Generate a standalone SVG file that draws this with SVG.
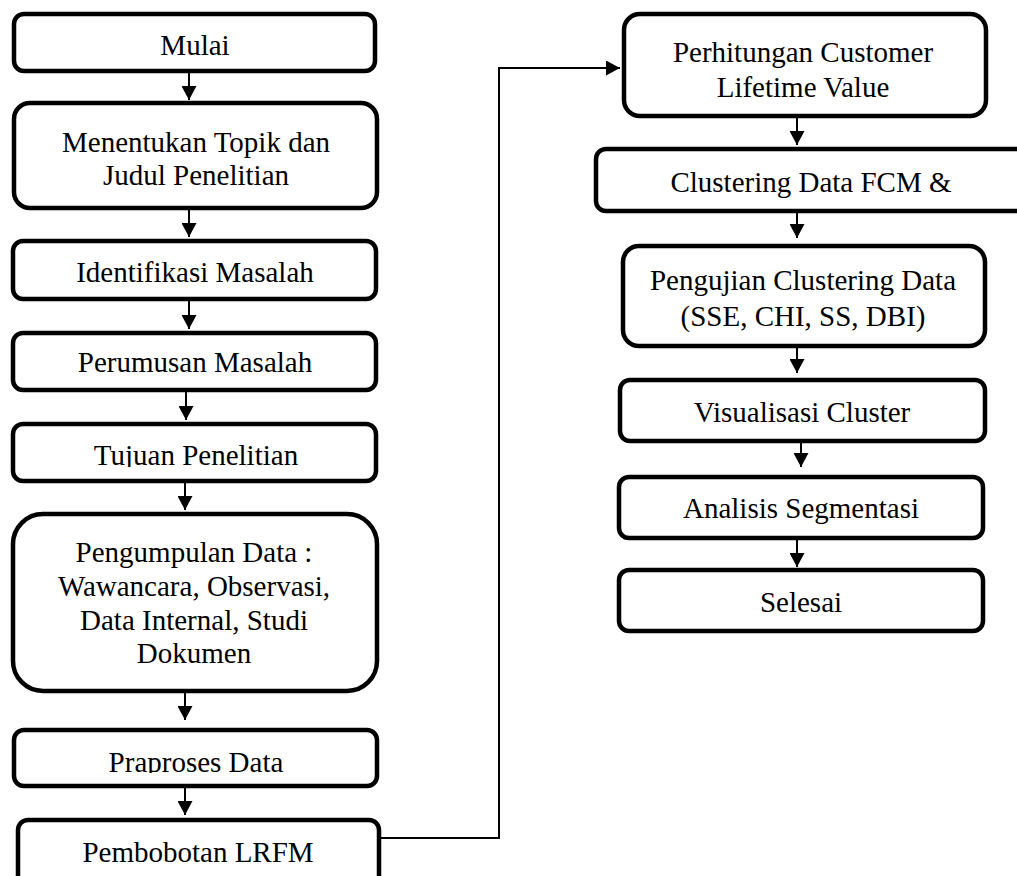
<svg xmlns="http://www.w3.org/2000/svg" width="1017" height="876" viewBox="0 0 1017 876">
<defs>
<style>
.box{fill:#fff;stroke:#000;stroke-width:4.5}
.t{font-family:"Liberation Serif","Times New Roman",serif;font-size:29px;fill:#000;text-anchor:middle}
.c{fill:none;stroke:#000;stroke-width:2}
</style>
<marker id="ah" viewBox="0 0 10 10" refX="10" refY="5" markerWidth="14" markerHeight="15" markerUnits="userSpaceOnUse" orient="auto" preserveAspectRatio="none">
<path d="M0,0 L10,5 L0,10 z" fill="#000"/>
</marker>
<clipPath id="clipTujuan"><rect x="0" y="420" width="400" height="47"/></clipPath>
<clipPath id="clipPrap"><rect x="0" y="726" width="400" height="47"/></clipPath>
</defs>
<rect width="1017" height="876" fill="#fff"/>
<g id="connectors">
<line class="c" x1="189" y1="73" x2="189" y2="100" marker-end="url(#ah)"/>
<line class="c" x1="189" y1="210" x2="189" y2="237" marker-end="url(#ah)"/>
<line class="c" x1="189" y1="301" x2="189" y2="329" marker-end="url(#ah)"/>
<line class="c" x1="186" y1="392" x2="186" y2="420" marker-end="url(#ah)"/>
<line class="c" x1="185" y1="483" x2="185" y2="510" marker-end="url(#ah)"/>
<line class="c" x1="185" y1="693" x2="185" y2="720" marker-end="url(#ah)"/>
<line class="c" x1="185" y1="788" x2="185" y2="815" marker-end="url(#ah)"/>
<polyline class="c" points="381,838 499,838 499,68 620,68" marker-end="url(#ah)"/>
<line class="c" x1="797" y1="118" x2="797" y2="145" marker-end="url(#ah)"/>
<line class="c" x1="797" y1="213" x2="797" y2="238" marker-end="url(#ah)"/>
<line class="c" x1="797" y1="348" x2="797" y2="373" marker-end="url(#ah)"/>
<line class="c" x1="801" y1="443" x2="801" y2="467" marker-end="url(#ah)"/>
<line class="c" x1="797" y1="540" x2="797" y2="567" marker-end="url(#ah)"/>
</g>
<g id="mulai"><rect class="box" x="14" y="14" width="361" height="57" rx="10"/><text class="t" x="195" y="55">Mulai</text></g>
<g id="menentukan"><rect class="box" x="14" y="103" width="363" height="105" rx="16"/><text class="t" x="196" y="152">Menentukan Topik dan</text><text class="t" x="196" y="185">Judul Penelitian</text></g>
<g id="identifikasi"><rect class="box" x="13" y="241" width="363" height="58" rx="10"/><text class="t" x="195" y="282">Identifikasi Masalah</text></g>
<g id="perumusan"><rect class="box" x="13" y="333" width="363" height="57" rx="10"/><text class="t" x="195" y="372">Perumusan Masalah</text></g>
<g id="tujuan"><rect class="box" x="13" y="424" width="363" height="57" rx="10"/><text class="t" x="196" y="465" clip-path="url(#clipTujuan)">Tujuan Penelitian</text></g>
<g id="pengumpulan"><rect class="box" x="13" y="514" width="364" height="177" rx="30"/><text class="t" x="194" y="562">Pengumpulan Data :</text><text class="t" x="194" y="596">Wawancara, Observasi,</text><text class="t" x="194" y="630">Data Internal, Studi</text><text class="t" x="194" y="663">Dokumen</text></g>
<g id="praproses"><rect class="box" x="14" y="730" width="363" height="56" rx="10"/><text class="t" x="196" y="772" clip-path="url(#clipPrap)">Praproses Data</text></g>
<g id="pembobotan"><rect class="box" x="18" y="820" width="361" height="70" rx="10"/><text class="t" x="198" y="862">Pembobotan LRFM</text></g>
<g id="perhitungan"><rect class="box" x="624" y="14" width="362" height="102" rx="16"/><text class="t" x="803" y="62">Perhitungan Customer</text><text class="t" x="803" y="97">Lifetime Value</text></g>
<g id="clustering"><rect class="box" x="596" y="149" width="500" height="62" rx="10"/><text class="t" x="811" y="192">Clustering Data FCM &amp;</text></g>
<g id="pengujian"><rect class="box" x="623" y="246" width="362" height="100" rx="16"/><text class="t" x="803" y="290">Pengujian Clustering Data</text><text class="t" x="803" y="326">(SSE, CHI, SS, DBI)</text></g>
<g id="visualisasi"><rect class="box" x="620" y="380" width="365" height="61" rx="10"/><text class="t" x="802" y="422">Visualisasi Cluster</text></g>
<g id="analisis"><rect class="box" x="619" y="477" width="364" height="61" rx="10"/><text class="t" x="801" y="518">Analisis Segmentasi</text></g>
<g id="selesai"><rect class="box" x="619" y="570" width="364" height="61" rx="10"/><text class="t" x="801" y="612">Selesai</text></g>
</svg>
